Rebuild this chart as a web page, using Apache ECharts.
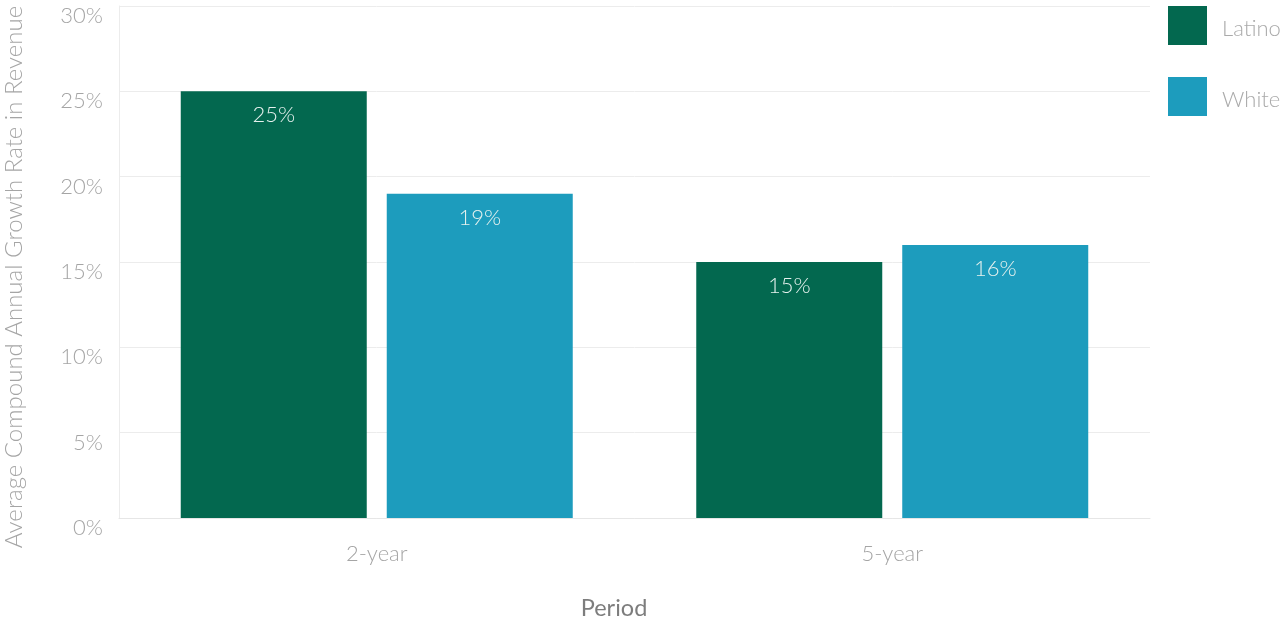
<!DOCTYPE html>
<html><head><meta charset="utf-8">
<script src="https://cdn.jsdelivr.net/npm/echarts@6/dist/echarts.min.js"></script>
<style>html,body{margin:0;padding:0;background:#fff}#c{width:1287px;height:620px}</style>
</head><body><div id="c"></div>
<script>
const categories = ['2-year', '5-year'];
const latino = [25, 15];
const white = [19, 16];
const yTicks = [0, 5, 10, 15, 20, 25, 30];
const seriesNames = ['Latino', 'White'];
const xTitle = 'Period';
const yTitle = 'Average Compound Annual Growth Rate in Revenue';

const FONT = "'Source Sans Pro', Lato, 'Open Sans', sans-serif";
const chart = echarts.init(document.getElementById('c'));
const labelStyle = {show: true, position: 'insideTop', distance: 13, color: '#e6f1ee', fontSize: 22, fontFamily: FONT, fontWeight: 300, formatter: p => p.value + '%'};
chart.setOption({
  animation: false,
  textStyle: {fontFamily: FONT},
  grid: {left: 119, right: 137, top: 6, bottom: 102, containLabel: false, outerBoundsMode: 'none'},
  legend: {
    orient: 'vertical', left: 1168, top: 6, padding: 0, itemWidth: 39, itemHeight: 39, itemGap: 32,
    icon: 'rect', data: seriesNames,
    formatter: n => '{a|' + n + '}',
    textStyle: {color: '#aaaaaa', fontSize: 22, fontFamily: FONT, fontWeight: 300,
      rich: {a: {color: '#aaaaaa', fontSize: 22, fontFamily: FONT, fontWeight: 300, padding: [7, 0, 0, 10]}}}
  },
  graphic: [
    {type: 'text', x: 14, y: 277, rotation: Math.PI / 2,
      style: {text: yTitle, fill: '#a5a5a5', font: '300 24px ' + FONT, align: 'center', verticalAlign: 'middle'}},
    {type: 'text', x: 614, y: 608,
      style: {text: xTitle, fill: '#7d7d7d', font: '400 23.5px ' + FONT, align: 'center', verticalAlign: 'middle'}}
  ],
  xAxis: {
    type: 'category', data: categories,
    axisLine: {lineStyle: {color: '#e6e6e6'}}, axisTick: {show: false},
    axisLabel: {color: '#a5a5a5', fontSize: 22, fontFamily: FONT, fontWeight: 300, margin: 25}
  },
  yAxis: {
    type: 'value', min: 0, max: 30, interval: 5,
    axisLine: {show: true, lineStyle: {color: '#ececec'}},
    axisLabel: {color: '#a5a5a5', fontSize: 22, fontFamily: FONT, fontWeight: 300, margin: 16,
      verticalAlign: 'top', padding: [-1, 0, 0, 0],
      formatter: v => yTicks.includes(v) ? v + '%' : ''},
    splitLine: {lineStyle: {color: '#ececec'}}
  },
  series: [
    {name: seriesNames[0], type: 'bar', data: latino, barWidth: 186, barGap: '10.75%', itemStyle: {color: '#03684f'}, label: labelStyle},
    {name: seriesNames[1], type: 'bar', data: white, barWidth: 186, itemStyle: {color: '#1d9cbd'}, label: labelStyle}
  ]
});
</script></body></html>
